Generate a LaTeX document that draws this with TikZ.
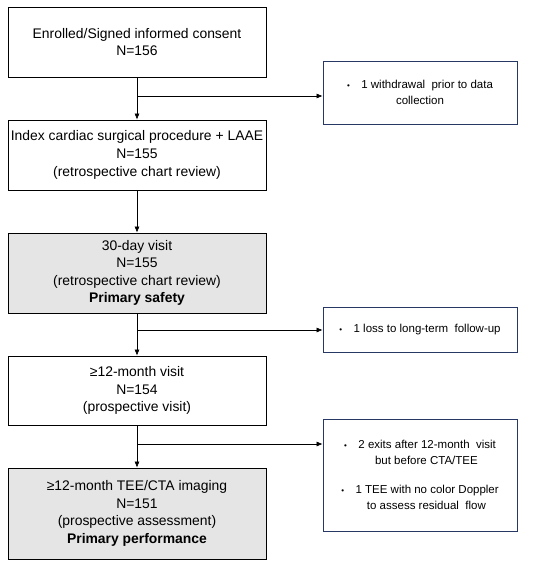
\documentclass[tikz,border=0pt]{standalone}
\usepackage{fontspec}
\setmainfont{Liberation Sans}
\usepackage{tikz}
\usetikzlibrary{positioning,arrows.meta}
\definecolor{sidenavy}{RGB}{40,56,100}
\newcommand{\dotmark}{{\footnotesize•}}
\tikzset{main style/.style={
		draw=black,
		line width=0.8pt,
		fill=white,
		rectangle,
		minimum width=258pt,
		align=center,
		inner sep=0pt,
		font=\fontsize{13.9}{17.6}\selectfont,
	},
	shaded style/.style={
		main style,
		fill=black!10,
	},
	side style/.style={
		draw=sidenavy,
		line width=0.8pt,
		fill=white,
		rectangle,
		minimum width=194pt,
		align=center,
		inner sep=0pt,
		font=\fontsize{11.5}{15.7}\selectfont,
	},
	link style/.style={
		line width=0.6pt,
		->,
	}
}

\begin{document}
\begin{tikzpicture}[x=1pt,y=-1pt,>={Latex[length=6pt,width=5pt]}]
	\useasboundingbox (0,0) rectangle (550,570);
	\node[main style, minimum height=70pt] (Enrolled) at (137,42) {Enrolled/Signed informed consent\\N=156};
	
	\node[main style, minimum height=70pt] (Index) at (137,155) {Index cardiac surgical procedure + LAAE\\N=155\\(retrospective chart review)}
	edge [<-, line width=0.6pt] (Enrolled);
	
	\node[shaded style, minimum height=80pt] (Visit30) at (137,273) {30-day visit\\N=155\\(retrospective chart review)\\\textbf{Primary safety}}
	edge [<-, line width=0.6pt] (Index);
	
	\node[main style, minimum height=69pt] (Visit12) at (137,390.5) {≥12-month visit\\N=154\\(prospective visit)}
	edge [<-, line width=0.6pt] (Visit30);
	
	\node[shaded style, minimum height=91pt] (Imaging) at (137,513.5) {≥12-month TEE/CTA imaging\\N=151\\(prospective assessment)\\\textbf{Primary performance}}
	edge [<-, line width=0.6pt] (Visit12);
	
	% exclusions
	\node[side style, minimum height=63pt] (Withdrawal) at (420,92.5) {\dotmark\quad 1 withdrawal\ \ prior to data\\collection};
	\node[side style, minimum height=45pt] (Lost) at (420,329.5) {\dotmark\quad 1 loss to long-term\ \ follow-up};
	\node[side style, minimum height=112pt] (Exits) at (420,475) {\dotmark\quad 2 exits after 12-month\ \ visit\\\ \ \ \ but before CTA/TEE\\[14pt]\dotmark\quad 1 TEE with no color Doppler\\\ \ \ \ to assess residual\ \ flow};
	
	\coordinate (split1) at (137,96);
	\coordinate (split2) at (137,330);
	\coordinate (split3) at (137,444);
	\draw[link style] (split1) -- (split1 -| Withdrawal.west);
	\draw[link style] (split2) -- (split2 -| Lost.west);
	\draw[link style] (split3) -- (split3 -| Exits.west);
\end{tikzpicture}
\end{document}
